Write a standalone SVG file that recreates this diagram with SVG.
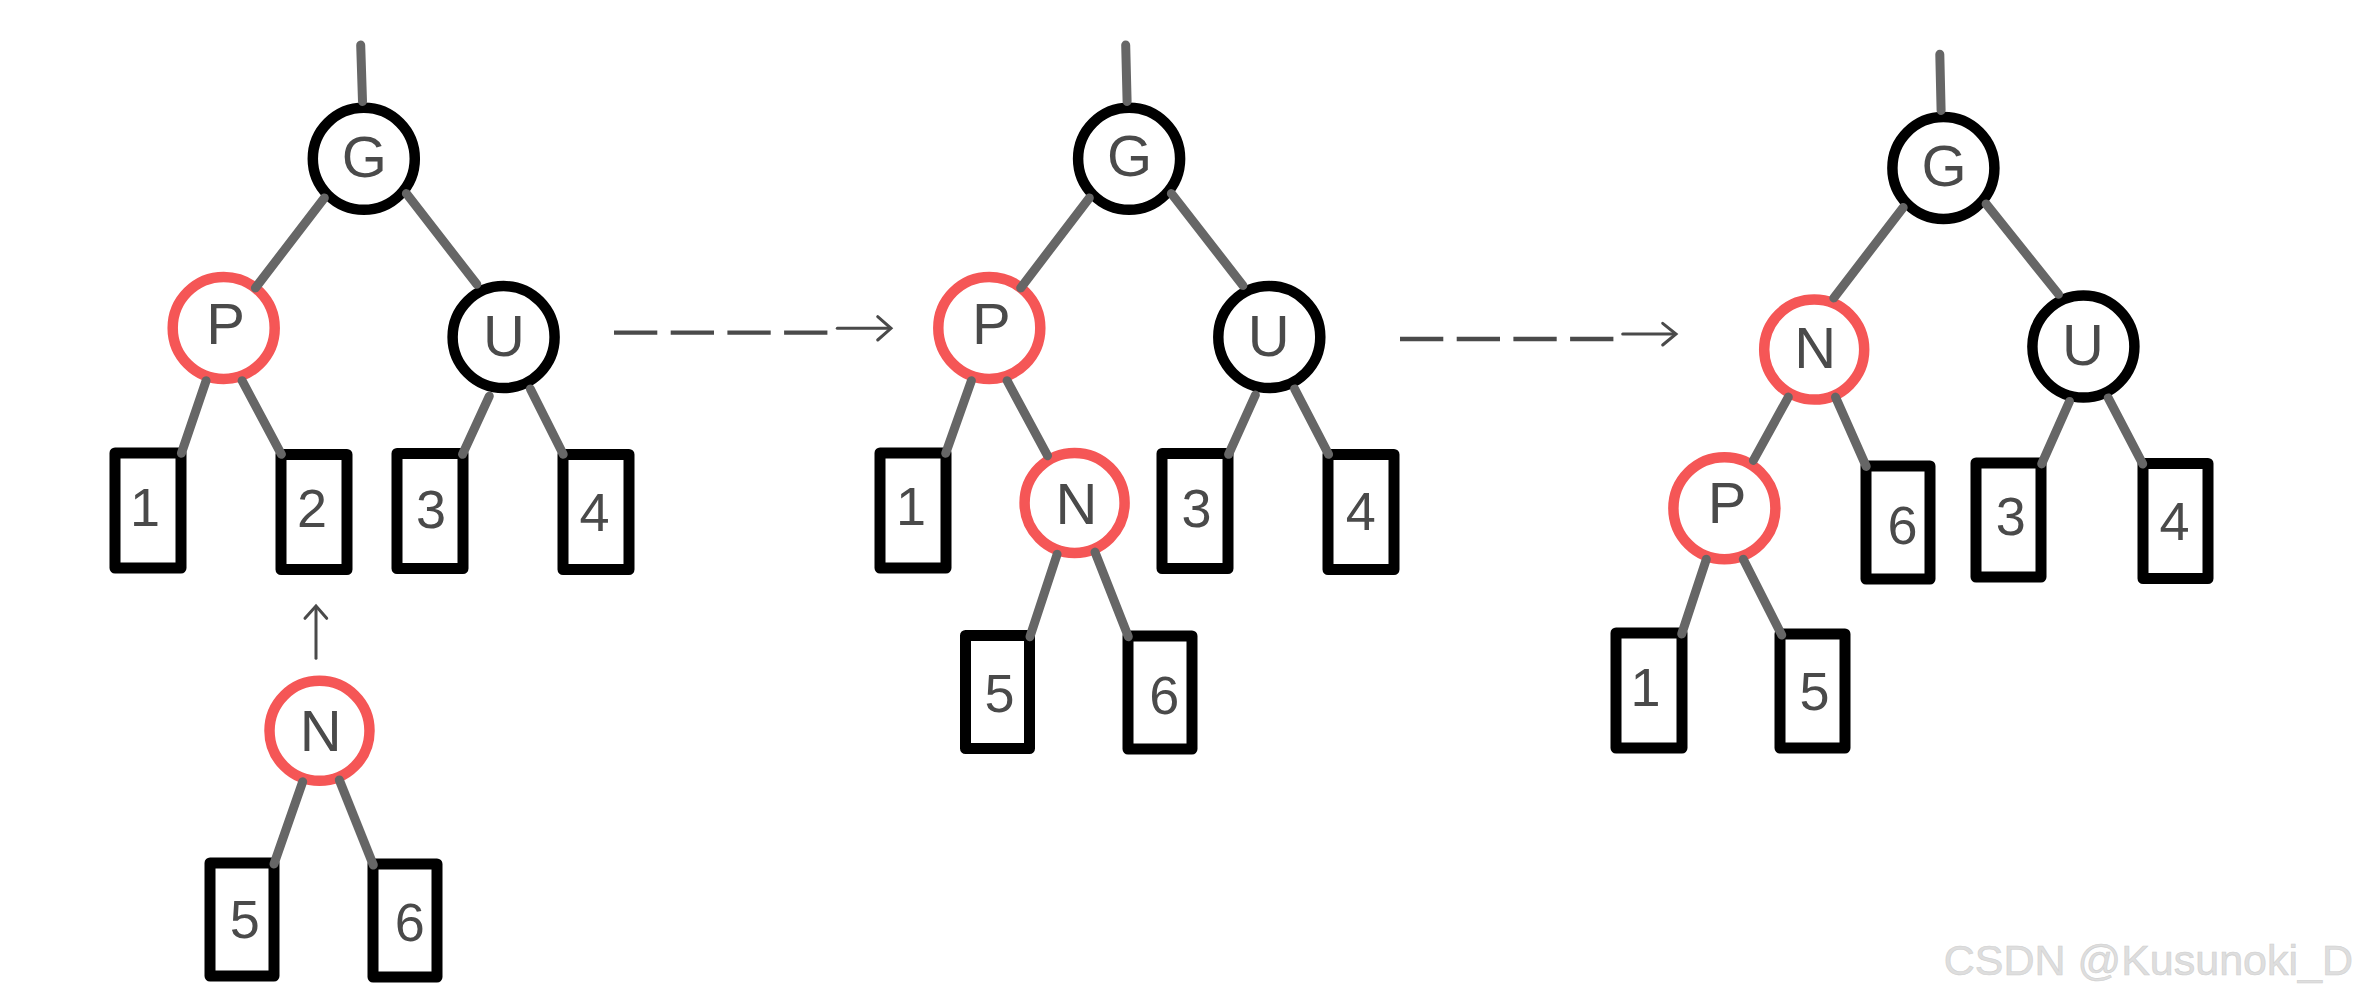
<svg xmlns="http://www.w3.org/2000/svg" width="2359" height="1000" viewBox="0 0 2359 1000">
<style>
.red{fill:#fff;stroke:#f55656;stroke-width:10.5}
.blk{fill:#fff;stroke:#000;stroke-width:10.5}
.box{fill:#fff;stroke:#000;stroke-width:11;stroke-linejoin:round}
.lbl{font-family:"Liberation Sans",Arial,sans-serif;font-size:58px;fill:#4a4a4a;text-anchor:middle}
.num{font-family:"Liberation Sans",Arial,sans-serif;font-size:54px;fill:#4a4a4a;text-anchor:middle}
.edge line{stroke:#666;stroke-width:9;stroke-linecap:round}
.dash{stroke:#4a4a4a;stroke-width:4.3;stroke-dasharray:43.3 13.4;fill:none}
.arr{stroke:#4a4a4a;stroke-width:3;fill:none;stroke-linecap:round;stroke-linejoin:miter}
.wm{font-family:"Liberation Sans",Arial,sans-serif;font-size:43px;fill:#dedede;stroke:#cfcfcf;stroke-width:0.6;text-anchor:end}
</style>
<rect width="2359" height="1000" fill="#fff"/>

<!-- Tree 1 -->
<g id="t1-G"><circle class="blk" cx="363.8" cy="158.8" r="51"/><text class="lbl" x="364.3" y="177">G</text></g>
<g id="t1-P"><circle class="red" cx="223.7" cy="327.9" r="51"/><text class="lbl" x="225.5" y="343.6">P</text></g>
<g id="t1-U"><circle class="blk" cx="503.6" cy="337.1" r="51"/><text class="lbl" x="504" y="355.5">U</text></g>
<g id="t1-N"><circle class="red" cx="319.5" cy="730.8" r="50"/><text class="lbl" x="320.8" y="751">N</text></g>
<g id="t1-1"><rect class="box" x="115" y="453" width="66" height="115"/><text class="num" x="145" y="525.7">1</text></g>
<g id="t1-2"><rect class="box" x="281" y="454.5" width="66" height="115"/><text class="num" x="312" y="527">2</text></g>
<g id="t1-3"><rect class="box" x="397" y="453.5" width="66" height="115"/><text class="num" x="431" y="527.5">3</text></g>
<g id="t1-4"><rect class="box" x="563" y="454.5" width="66" height="115"/><text class="num" x="594.6" y="530.7">4</text></g>
<g id="t1-5"><rect class="box" x="210" y="863" width="64" height="113"/><text class="num" x="244.7" y="938.3">5</text></g>
<g id="t1-6"><rect class="box" x="373" y="864" width="64" height="113"/><text class="num" x="409.7" y="940.7">6</text></g>

<!-- Tree 2 -->
<g id="t2-G"><circle class="blk" cx="1129.1" cy="158.8" r="51"/><text class="lbl" x="1129.5" y="176.4">G</text></g>
<g id="t2-P"><circle class="red" cx="989.3" cy="327.9" r="51"/><text class="lbl" x="991.4" y="343.6">P</text></g>
<g id="t2-U"><circle class="blk" cx="1269.3" cy="337.1" r="51"/><text class="lbl" x="1268.8" y="355.5">U</text></g>
<g id="t2-N"><circle class="red" cx="1074.6" cy="502.9" r="50"/><text class="lbl" x="1076.4" y="523.6">N</text></g>
<g id="t2-1"><rect class="box" x="880" y="453" width="66" height="115"/><text class="num" x="911" y="524.6">1</text></g>
<g id="t2-3"><rect class="box" x="1162" y="453.5" width="66" height="115"/><text class="num" x="1196.4" y="527.1">3</text></g>
<g id="t2-4"><rect class="box" x="1328" y="454.5" width="66" height="115"/><text class="num" x="1360.7" y="530">4</text></g>
<g id="t2-5"><rect class="box" x="965.5" y="635.5" width="64" height="113"/><text class="num" x="999.5" y="711.7">5</text></g>
<g id="t2-6"><rect class="box" x="1128" y="636" width="64" height="113"/><text class="num" x="1164.2" y="714">6</text></g>

<!-- Tree 3 -->
<g id="t3-G"><circle class="blk" cx="1943.4" cy="168" r="51"/><text class="lbl" x="1944" y="186">G</text></g>
<g id="t3-N"><circle class="red" cx="1814.2" cy="349.6" r="50"/><text class="lbl" x="1815.3" y="368.2">N</text></g>
<g id="t3-U"><circle class="blk" cx="2083.4" cy="346.6" r="51"/><text class="lbl" x="2083" y="364.5">U</text></g>
<g id="t3-P"><circle class="red" cx="1724.4" cy="508.2" r="51"/><text class="lbl" x="1727" y="522.9">P</text></g>
<g id="t3-6"><rect class="box" x="1866" y="466" width="64" height="113"/><text class="num" x="1902.6" y="544.3">6</text></g>
<g id="t3-3"><rect class="box" x="1976" y="463" width="65" height="114"/><text class="num" x="2010.8" y="535.4">3</text></g>
<g id="t3-4"><rect class="box" x="2143" y="463.5" width="65" height="115"/><text class="num" x="2174.5" y="540">4</text></g>
<g id="t3-1"><rect class="box" x="1616" y="633" width="66" height="115"/><text class="num" x="1645.5" y="706">1</text></g>
<g id="t3-5"><rect class="box" x="1780" y="634" width="65" height="114"/><text class="num" x="1814.5" y="710">5</text></g>

<!-- Connectors -->
<g id="connectors" class="edge">
<line x1="360.7" y1="45" x2="362.5" y2="101.4"/>
<line x1="324.3" y1="197.9" x2="255.4" y2="287.9"/>
<line x1="406.4" y1="193.6" x2="476.8" y2="284.3"/>
<line x1="206.1" y1="380.7" x2="181.4" y2="453.2"/>
<line x1="242.1" y1="380.7" x2="281.4" y2="454.3"/>
<line x1="489.3" y1="396.1" x2="462.5" y2="454.3"/>
<line x1="530.4" y1="388.9" x2="563.2" y2="454.3"/>
<line x1="302.7" y1="781.7" x2="274" y2="864"/>
<line x1="339.3" y1="780" x2="373.3" y2="865"/>

<line x1="1125.7" y1="45" x2="1127.1" y2="101.4"/>
<line x1="1089.3" y1="197.9" x2="1020.7" y2="287.9"/>
<line x1="1171.4" y1="193.6" x2="1242.9" y2="285.4"/>
<line x1="971.4" y1="380.7" x2="945.7" y2="453.2"/>
<line x1="1007.1" y1="380.7" x2="1047.5" y2="455.7"/>
<line x1="1255.4" y1="395" x2="1228.6" y2="454.3"/>
<line x1="1294.6" y1="388.9" x2="1328.6" y2="454.3"/>
<line x1="1057.1" y1="554.3" x2="1030" y2="636.7"/>
<line x1="1095" y1="552.1" x2="1128.3" y2="636.7"/>

<line x1="1939.8" y1="54.3" x2="1941.1" y2="110.4"/>
<line x1="1903.2" y1="207.5" x2="1833.8" y2="297.9"/>
<line x1="1986.1" y1="203.9" x2="2058.5" y2="294.3"/>
<line x1="1788.3" y1="397.1" x2="1753.4" y2="460.4"/>
<line x1="1835.5" y1="397.1" x2="1866.2" y2="466.4"/>
<line x1="2069.5" y1="401.4" x2="2041.7" y2="463.9"/>
<line x1="2108.2" y1="397.9" x2="2142.7" y2="463.9"/>
<line x1="1706.3" y1="559.3" x2="1681.7" y2="634"/>
<line x1="1743.3" y1="559.3" x2="1781.7" y2="635"/>
</g>

<!-- Transition arrows -->
<g id="arrows">
<line class="dash" x1="614" y1="332.7" x2="828.3" y2="332.7"/>
<line class="arr" x1="837.3" y1="328.3" x2="890" y2="328.3"/>
<polyline class="arr" points="877.7,316.7 891,328.3 877.7,340"/>
<line class="dash" x1="1400" y1="339" x2="1614" y2="339"/>
<line class="arr" x1="1622.7" y1="334" x2="1675" y2="334"/>
<polyline class="arr" points="1662.7,323.3 1676,334 1662.7,345"/>
<line class="arr" x1="316" y1="607" x2="316" y2="658.3"/>
<polyline class="arr" points="305,618.3 316,606 326.7,618.3"/>
</g>

<text class="wm" x="2353" y="975">CSDN @Kusunoki_D</text>
</svg>
